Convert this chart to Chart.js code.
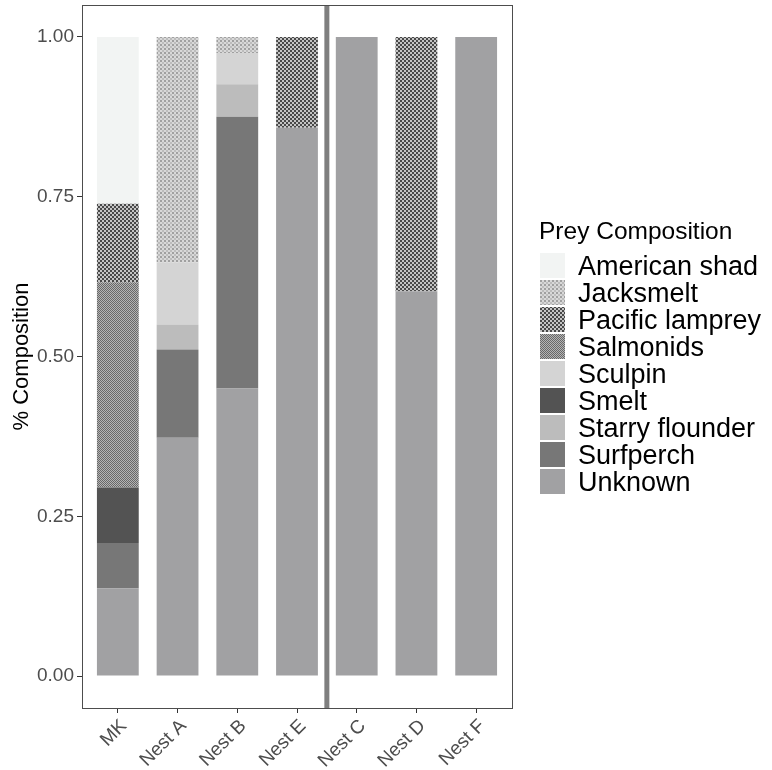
<!DOCTYPE html>
<html>
<head>
<meta charset="utf-8">
<script src="https://cdn.jsdelivr.net/npm/chart.js@4.4.1/dist/chart.umd.min.js"></script>
<style>
  html, body { margin: 0; padding: 0; background: #fff; }
  #wrap { width: 772px; height: 770px; }
</style>
</head>
<body>
<div id="wrap"><canvas id="chart" width="772" height="770"></canvas></div>
<script>
// ===== Data =====
const sites = ["MK", "Nest A", "Nest B", "Nest E", "Nest C", "Nest D", "Nest F"];
const preyNames = ["American shad", "Jacksmelt", "Pacific lamprey", "Salmonids", "Sculpin",
                   "Smelt", "Starry flounder", "Surfperch", "Unknown"];

const americanShad   = [0.261, 0, 0, 0, 0, 0, 0];
const jacksmelt      = [0, 0.353, 0.025, 0, 0, 0, 0];
const pacificLamprey = [0.123, 0, 0, 0.142, 0, 0.398, 0];
const salmonids      = [0.321, 0, 0, 0, 0, 0, 0];
const sculpin        = [0, 0.097, 0.049, 0, 0, 0, 0];
const smelt          = [0.087, 0, 0, 0, 0, 0, 0];
const starryFlounder = [0, 0.039, 0.051, 0, 0, 0, 0];
const surfperch      = [0.0705, 0.138, 0.425, 0, 0, 0, 0];
const unknown        = [0.1375, 0.373, 0.45, 0.858, 1, 0.602, 1];

const yTicks = [0, 0.25, 0.5, 0.75, 1];
const legendTitle = "Prey Composition";

// ===== Fills =====
function makePattern(size, draw) {
  const c = document.createElement("canvas");
  c.width = size; c.height = size;
  const g = c.getContext("2d");
  draw(g);
  return g.createPattern(c, "repeat");
}

const jacksmeltFill = makePattern(4, g => {
  g.fillStyle = "#d8d8d8"; g.fillRect(0, 0, 4, 4);
  g.fillStyle = "#a0a0a0"; g.fillRect(0, 0, 2, 2);
  g.fillStyle = "#bcbcbc"; g.fillRect(2, 2, 2, 2);
});
const lampreyFill = makePattern(4, g => {
  g.fillStyle = "#c4c4c4"; g.fillRect(0, 0, 4, 4);
  g.fillStyle = "#484848"; g.fillRect(0, 0, 2, 2); g.fillRect(2, 2, 2, 2);
});
const salmonidFill = makePattern(2, g => {
  g.fillStyle = "#b4b4b4"; g.fillRect(0, 0, 2, 2);
  g.fillStyle = "#686868"; g.fillRect(0, 0, 1, 1); g.fillRect(1, 1, 1, 1);
});

const fills = {
  "American shad": "#f2f4f3",
  "Jacksmelt": jacksmeltFill,
  "Pacific lamprey": lampreyFill,
  "Salmonids": salmonidFill,
  "Sculpin": "#d4d4d4",
  "Smelt": "#535353",
  "Starry flounder": "#bcbcbc",
  "Surfperch": "#777777",
  "Unknown": "#a1a1a3"
};

const seriesValues = [americanShad, jacksmelt, pacificLamprey, salmonids, sculpin,
                      smelt, starryFlounder, surfperch, unknown];

// Chart.js stacks the first dataset at the bottom, so Unknown goes first
const datasets = preyNames.map((name, i) => ({
  label: name,
  data: seriesValues[i].map((v, j) => ({ x: j, y: v })),
  backgroundColor: fills[name],
  borderWidth: 0,
  categoryPercentage: 0.7,
  barPercentage: 1
})).reverse();

const font = "'Liberation Sans', Arial, sans-serif";

// ===== Panel border + separator =====
const panelPlugin = {
  id: "panel",
  afterDatasetsDraw(chart) {
    const { ctx, chartArea: a, scales: { x } } = chart;
    ctx.save();
    // separator between Nest E and Nest C
    const sx = x.getPixelForValue(3.5);
    ctx.strokeStyle = "#7f7f7f";
    ctx.lineWidth = 5;
    ctx.beginPath(); ctx.moveTo(sx, a.top); ctx.lineTo(sx, a.bottom); ctx.stroke();
    ctx.strokeStyle = "#4d4d4d";
    ctx.lineWidth = 1;
    ctx.strokeRect(Math.round(a.left) + 0.5, Math.round(a.top) + 0.5,
                   Math.round(a.right - a.left), Math.round(a.bottom - a.top));
    ctx.restore();
  }
};

// ===== Legend (drawn beside the panel; the built-in one gets capped in width) =====
const legendPlugin = {
  id: "sideLegend",
  afterDraw(chart) {
    const ctx = chart.ctx;
    const items = chart.data.datasets.slice().reverse();
    const left = chart.chartArea.right + 28;
    ctx.save();
    ctx.textBaseline = "alphabetic";
    ctx.fillStyle = "#000";
    ctx.font = "24.5px " + font;
    ctx.fillText(legendTitle, left - 1, 239);
    items.forEach((ds, i) => {
      const top = 253 + i * 27;
      ctx.fillStyle = ds.backgroundColor;
      ctx.fillRect(left, top, 25, 25);
      ctx.fillStyle = "#000";
      ctx.font = "27px " + font;
      ctx.fillText(ds.label, left + 38, top + 22);
    });
    ctx.restore();
  }
};

new Chart(document.getElementById("chart"), {
  type: "bar",
  data: { datasets },
  plugins: [panelPlugin, legendPlugin],
  options: {
    responsive: false,
    animation: false,
    devicePixelRatio: 1,
    layout: { padding: { top: 5, right: 260, left: 0, bottom: 0 } },
    scales: {
      x: {
        type: "linear",
        stacked: true,
        offset: false,
        min: -0.6,
        max: 6.6,
        afterBuildTicks: s => { s.ticks = sites.map((_, i) => ({ value: i })); },
        afterFit: s => { s.height = 62; s.paddingLeft = 0; s.paddingRight = 0; },
        grid: { offset: false, drawOnChartArea: false, drawTicks: true, tickLength: 5, color: "#333333" },
        border: { display: false },
        ticks: {
          autoSkip: false,
          minRotation: 45,
          maxRotation: 45,
          padding: 2,
          labelOffset: 6,
          color: "#4d4d4d",
          font: { family: font, size: 19 },
          callback: v => sites[v]
        }
      },
      y: {
        stacked: true,
        min: -0.05,
        max: 1.05,
        afterBuildTicks: s => { s.ticks = yTicks.map(v => ({ value: v })); },
        afterFit: s => { s.width = 82; s.paddingTop = 0; s.paddingBottom = 0; },
        grid: { drawOnChartArea: false, drawTicks: true, tickLength: 5, color: "#333333" },
        border: { display: false },
        title: { display: true, text: "% Composition", color: "#000",
                 font: { family: font, size: 22 }, padding: { top: 9, bottom: 0 } },
        ticks: {
          color: "#4d4d4d",
          padding: 3,
          font: { family: font, size: 19 },
          callback: v => v.toFixed(2)
        }
      }
    },
    plugins: {
      tooltip: { enabled: false },
      legend: { display: false }
    }
  }
});
</script>
</body>
</html>
